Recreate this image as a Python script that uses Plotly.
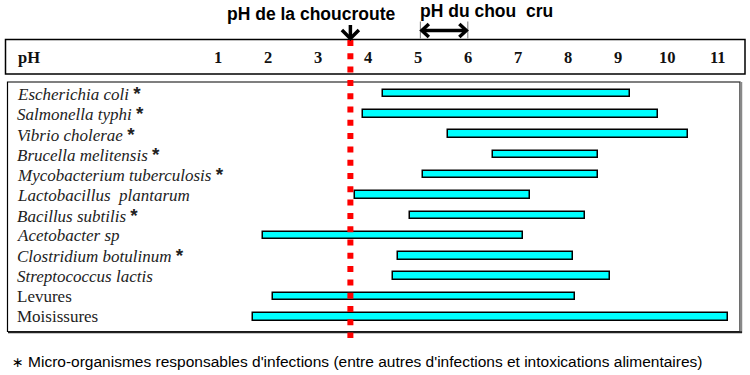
import plotly.graph_objects as go

# ---- data ----
organisms = [
    "Escherichia coli", "Salmonella typhi", "Vibrio cholerae", "Brucella melitensis",
    "Mycobacterium tuberculosis", "Lactobacillus  plantarum", "Bacillus subtilis",
    "Acetobacter sp", "Clostridium botulinum", "Streptococcus lactis", "Levures", "Moisissures",
]
italic = [True] * 10 + [False, False]
pathogen = [True, True, True, True, True, False, True, False, True, False, False, False]
ph_min = [4.3, 3.9, 5.6, 6.5, 5.1, 3.75, 4.85, 1.9, 4.6, 4.5, 2.1, 1.7]
ph_max = [9.25, 9.8, 10.4, 8.6, 8.6, 7.25, 8.35, 7.1, 8.1, 8.85, 8.15, 11.2]
ph_ticks = [1, 2, 3, 4, 5, 6, 7, 8, 9, 10, 11]
ph_choucroute = 3.65
ph_chou_cru = [5.05, 6.0]

W, H = 750, 375
X0PX, XSCALE = 168.0, 49.97       # pixel of pH 0, pixels per pH unit
Y0PX, YSCALE = 93.5, 20.3         # pixel of row 0, pixels per row


def px(x):
    return x / W


def py(y):
    return 1 - y / H


def ydata(ypix):
    return (ypix - Y0PX) / YSCALE


rows = list(range(len(organisms)))

fig = go.Figure()
fig.add_trace(go.Bar(
    y=rows,
    base=ph_min,
    x=[b - a for a, b in zip(ph_min, ph_max)],
    orientation="h",
    width=0.37,
    marker=dict(color="#00FFFF", line=dict(color="black", width=1.5)),
    hoverinfo="skip",
))

shapes = []
# top pH box
shapes.append(dict(type="rect", xref="paper", yref="paper",
                   x0=px(5.5), x1=px(745), y0=py(74), y1=py(39.5),
                   line=dict(color="black", width=1.5), layer="below"))
# lower box
shapes.append(dict(type="rect", xref="paper", yref="paper",
                   x0=px(7.5), x1=px(740), y0=py(331.5), y1=py(82),
                   line=dict(color="black", width=1.2), layer="below"))
shapes.append(dict(type="line", xref="paper", yref="paper",
                   x0=px(741), x1=px(741), y0=py(82), y1=py(333),
                   line=dict(color="#888888", width=2.5), layer="below"))
shapes.append(dict(type="line", xref="paper", yref="paper",
                   x0=px(8), x1=px(742), y0=py(332.3), y1=py(332.3),
                   line=dict(color="#222222", width=2), layer="below"))
# red dotted line (pH de la choucroute)
shapes.append(dict(type="line", xref="x", yref="y",
                   x0=ph_choucroute, x1=ph_choucroute, y0=ydata(40), y1=ydata(338),
                   line=dict(color="#FF0000", width=6, dash="6px,7.3px"), layer="above"))
# down arrow
xa = ph_choucroute
shapes.append(dict(type="line", xref="x", yref="y",
                   x0=xa, x1=xa, y0=ydata(25), y1=ydata(37.5),
                   line=dict(color="black", width=3.5)))
hx = 8.5 / XSCALE
shapes.append(dict(type="path", xref="x", yref="y",
                   path=f"M {xa - hx},{ydata(30)} L {xa},{ydata(38.5)} L {xa + hx},{ydata(30)}",
                   line=dict(color="black", width=3.5)))
# double arrow (pH du chou cru)
a0, a1 = ph_chou_cru
for xv in (a0, a1):
    shapes.append(dict(type="line", xref="x", yref="y",
                       x0=xv, x1=xv, y0=ydata(21.5), y1=ydata(38.5),
                       line=dict(color="#777777", width=1)))
shapes.append(dict(type="line", xref="x", yref="y",
                   x0=a0 + 1.5 / XSCALE, x1=a1 - 1.5 / XSCALE, y0=ydata(30.5), y1=ydata(30.5),
                   line=dict(color="black", width=3.5)))
d = 7 / XSCALE
shapes.append(dict(type="path", xref="x", yref="y",
                   path=f"M {a0 + d + 1.5/XSCALE},{ydata(24)} L {a0 + 1.5/XSCALE},{ydata(30.5)} L {a0 + d + 1.5/XSCALE},{ydata(37)}",
                   line=dict(color="black", width=3.5)))
shapes.append(dict(type="path", xref="x", yref="y",
                   path=f"M {a1 - d - 1.5/XSCALE},{ydata(24)} L {a1 - 1.5/XSCALE},{ydata(30.5)} L {a1 - d - 1.5/XSCALE},{ydata(37)}",
                   line=dict(color="black", width=3.5)))

ann = []
serif = "Liberation Serif, Times New Roman, serif"
sans = "Liberation Sans, Arial, sans-serif"
# tick labels
for t in ph_ticks:
    ann.append(dict(x=t, y=ydata(57.5), xref="x", yref="y", text=f"<b>{t}</b>",
                    showarrow=False, xanchor="center", yanchor="middle",
                    font=dict(family=serif, size=16.5, color="#111111")))
ann.append(dict(x=px(16), y=py(57.5), xref="paper", yref="paper", text="<b>pH</b>",
                showarrow=False, xanchor="left", yanchor="middle",
                font=dict(family=serif, size=16.5, color="#111111")))
# headings
ann.append(dict(x=px(225), y=py(13.5), xref="paper", yref="paper", text="<b>pH de la choucroute</b>",
                showarrow=False, xanchor="left", yanchor="middle",
                font=dict(family=sans, size=17.5, color="black")))
ann.append(dict(x=px(418), y=py(11.5), xref="paper", yref="paper", text="<b>pH du chou  cru</b>",
                showarrow=False, xanchor="left", yanchor="middle",
                font=dict(family=sans, size=17.5, color="black")))
# row labels
star = " <span style='font-family:Liberation Sans;font-weight:bold;font-size:19px'>*</span>"
for i, (name, it, pat) in enumerate(zip(organisms, italic, pathogen)):
    txt = f"<i>{name}</i>" if it else name
    if pat:
        txt += star
    ann.append(dict(x=px(15), y=i, xref="paper", yref="y", text=txt,
                    showarrow=False, xanchor="left", yanchor="middle",
                    font=dict(family=serif, size=17, color="#222222")))
# footnote
ann.append(dict(x=px(10), y=py(361.5), xref="paper", yref="paper",
                text="<span style='font-family:DejaVu Sans;font-size:14px'>∗</span> Micro-organismes responsables d'infections (entre autres d'infections et intoxications alimentaires)",
                showarrow=False, xanchor="left", yanchor="middle",
                font=dict(family=sans, size=15.5, color="black")))

fig.update_layout(
    width=W, height=H,
    margin=dict(l=0, r=0, t=0, b=0),
    paper_bgcolor="white", plot_bgcolor="white",
    showlegend=False,
    xaxis=dict(range=[-X0PX / XSCALE, (W - X0PX) / XSCALE], visible=False, fixedrange=True),
    yaxis=dict(range=[(H - Y0PX) / YSCALE, -Y0PX / YSCALE], visible=False, fixedrange=True),
    shapes=shapes,
    annotations=ann,
    bargap=0,
)

fig.write_html("out.html", config={"displayModeBar": False},
               post_script="document.body.style.margin='0';document.body.style.overflow='hidden';")
